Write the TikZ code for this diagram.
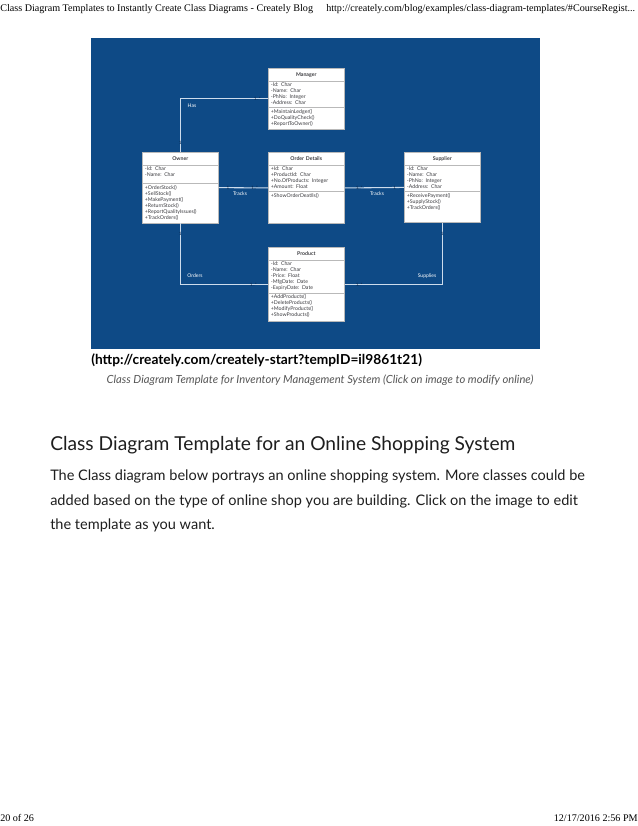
\documentclass[tikz,border=0pt]{standalone}
\usepackage{fontspec}
\setmainfont{Liberation Serif}
\newfontfamily\webfont{Lato}
\usetikzlibrary{shapes.multipart}

\definecolor{createlyblue}{RGB}{14,74,134}
\definecolor{linkline}{RGB}{205,220,236}
\definecolor{boxtext}{RGB}{60,60,64}
\definecolor{multtext}{RGB}{8,36,72}
\definecolor{captiongrey}{RGB}{85,85,85}
\definecolor{bodytext}{RGB}{30,30,30}

\newcommand{\classtitle}[1]{\hbox to \hsize{\hfil\rule[-1.8pt]{0pt}{6.2pt}\bfseries#1\hfil}}
\newcommand{\padbelow}[1]{\rule[-#1]{0pt}{#1}}

\begin{document}
\begin{tikzpicture}[x=0.75pt,y=-0.75pt,
  class_node/.style={rectangle split, rectangle split parts=3, draw=gray!55, fill=white,
    line width=0.4pt, text width=53pt, inner xsep=2pt, inner ysep=1.4pt, align=left,
    anchor=north west, font=\webfont\fontsize{3.9pt}{4.5pt}\selectfont, text=boxtext},
  link_line/.style={draw=linkline, line width=0.8pt},
  link_label/.style={font=\webfont\fontsize{3.8pt}{4pt}\selectfont, text=white, inner sep=0.5pt},
  mult_label/.style={font=\webfont\fontsize{3.4pt}{4pt}\selectfont, text=multtext, inner sep=0.3pt},
  page_text/.style={font=\fontsize{7.6pt}{9pt}\selectfont, inner sep=0pt},
  web_body/.style={font=\webfont\fontsize{10.9pt}{12pt}\selectfont, text=bodytext, anchor=base west, inner sep=0pt}]

    \useasboundingbox (0,0) rectangle (638,826);

    % page header and footer
    \node[page_text, anchor=base west] (page_title) at (0,11) {Class Diagram Templates to Instantly Create Class Diagrams - Creately Blog};
    \node[page_text, anchor=base west] (page_url) at (326,11) {http://creately.com/blog/examples/class-diagram-templates/\#CourseRegist...};
    \node[page_text, anchor=base west] (page_no) at (0,821) {20 of 26};
    \node[page_text, anchor=base east] (page_date) at (638,821) {12/17/2016 2:56 PM};

    % diagram background
    \fill[createlyblue] (91,38) rectangle (540,349);

    % classes
    \node[class_node] (manager) at (268,68) {\classtitle{Manager}
      \nodepart{two} -Id: Char\\ -Name: Char\\ -PhNo: Integer\\ -Address: Char
      \nodepart{three} +MaintainLedger()\\ +DoQualityCheck()\\ +ReportToOwner()\padbelow{1.5pt}};
    \node[class_node] (owner) at (142,152) {\classtitle{Owner}
      \nodepart{two} -Id: Char\\ -Name: Char\padbelow{3.3pt}
      \nodepart{three} +OrderStock()\\ +SellStock()\\ +MakePayment()\\ +ReturnStock()\\ +ReportQualityIssues()\\ +TrackOrders()\padbelow{1pt}};
    \node[class_node] (order_details) at (268,152) {\classtitle{Order Details}
      \nodepart{two} +Id: Char\\ +ProductId: Char\\ +No.OfProducts: Integer\\ +Amount: Float
      \nodepart{three} +ShowOrderDeatils()\padbelow{18.3pt}};
    \node[class_node] (supplier) at (404,152) {\classtitle{Supplier}
      \nodepart{two} -Id: Char\\ -Name: Char\\ -PhNo: Integer\\ -Address: Char
      \nodepart{three} +ReceivePayment()\\ +SupplyStock()\\ +TrackOrders()\padbelow{8.5pt}};
    \node[class_node] (product) at (268,247) {\classtitle{Product}
      \nodepart{two} -Id: Char\\ -Name: Char\\ -Price: Float\\ -MfgDate: Date\\ -ExpiryDate: Date
      \nodepart{three} +AddProducts()\\ +DeleteProducts()\\ +ModifyProducts()\\ +ShowProducts()\padbelow{1.8pt}};

    % associations
    \draw[link_line] (owner.north) |- (manager.west);
    \draw[link_line] (owner.east) -- (order_details.west);
    \draw[link_line] (order_details.east) -- (supplier.west);
    \draw[link_line] (owner.south) |- (product.west);
    \draw[link_line] (supplier.south) |- (product.east);

    \node[link_label] (has) at (192,106) {Has};
    \node[link_label] (tracks_a) at (240,194) {Tracks};
    \node[link_label] (tracks_b) at (377,194) {Tracks};
    \node[link_label] (orders) at (195,276) {Orders};
    \node[link_label] (supplies) at (427,276) {Supplies};

    % multiplicities
    \node[mult_label] (has_m) at ([xshift=-8pt]manager.west) {1..*};
    \node[mult_label] (has_o) at ([yshift=6.5pt]owner.north) {1};
    \node[mult_label] (tracks_a_o) at ([xshift=7pt]owner.east) {1};
    \node[mult_label] (tracks_a_d) at ([xshift=-10pt]order_details.west) {1..*};
    \node[mult_label] (tracks_b_d) at ([xshift=11pt]order_details.east) {1..*};
    \node[mult_label] (tracks_b_s) at ([xshift=-7pt]supplier.west) {1};
    \node[mult_label] (orders_o) at ([yshift=-8pt]owner.south) {1};
    \node[mult_label] (orders_p) at ([xshift=-11pt]product.west) {1..*};
    \node[mult_label] (supplies_s) at ([yshift=-8pt]supplier.south) {1};
    \node[mult_label] (supplies_p) at ([xshift=11pt]product.east) {1..*};

    % caption and following text
    \node[font=\webfont\bfseries\fontsize{10.3pt}{12pt}\selectfont, anchor=base west, inner sep=0pt] (template_link) at (91,364) {(http://creately.com/creately-start?tempID=il9861t21)};
    \node[font=\webfont\itshape\fontsize{8.4pt}{10pt}\selectfont, text=captiongrey, inner sep=0pt] (template_caption) at (320,380) {Class Diagram Template for Inventory Management System (Click on image to modify online)};
    \node[font=\webfont\fontsize{14.4pt}{17pt}\selectfont, text=bodytext, anchor=base west, inner sep=0pt] (section_head) at (50,450) {Class Diagram Template for an Online Shopping System};
    \node[web_body] (body_a) at (50,480) {The Class diagram below portrays an online shopping system. More classes could be};
    \node[web_body] (body_b) at (50,505) {added based on the type of online shop you are building. Click on the image to edit};
    \node[web_body] (body_c) at (50,529) {the template as you want.};

\end{tikzpicture}
\end{document}
